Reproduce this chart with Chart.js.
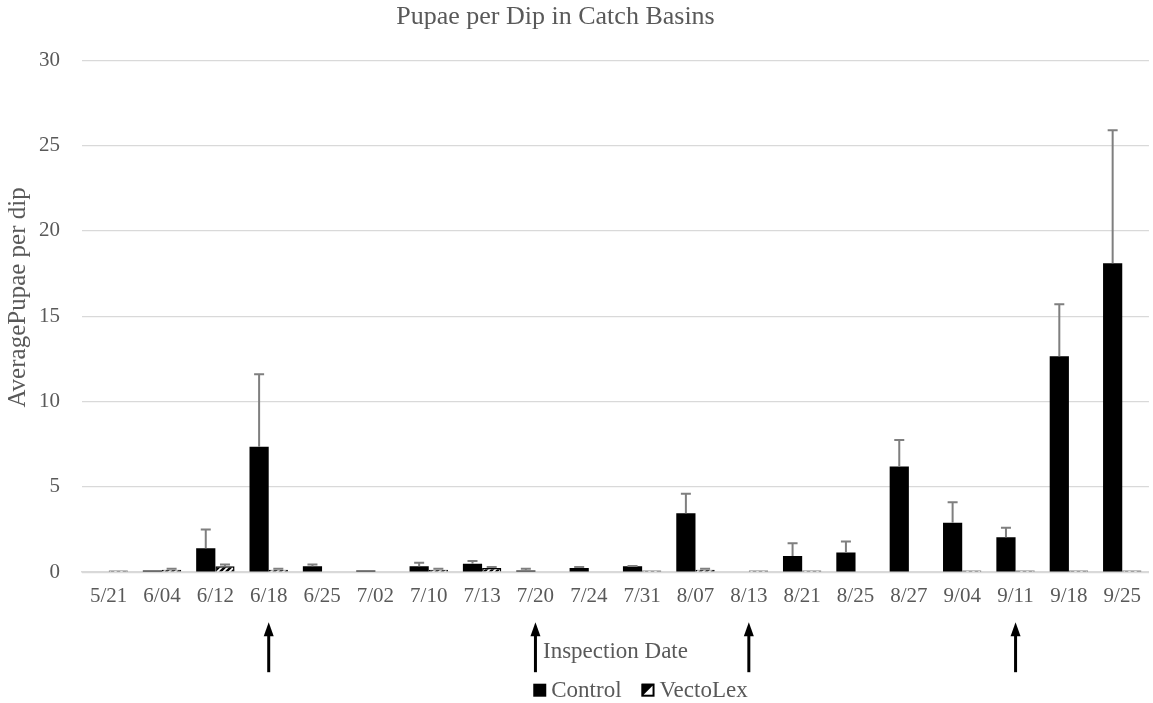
<!DOCTYPE html>
<html lang="en">
<head>
    <meta charset="UTF-8">
    <title>Pupae per Dip in Catch Basins</title>
    <script src="https://cdn.jsdelivr.net/npm/chart.js"></script>
    <style>
        html, body { margin: 0; padding: 0; background: #fff; }
        .wrap { width: 1153px; height: 703px; }
    </style>
</head>
<body>
    <div class="wrap"><canvas id="chart" width="1153" height="703"></canvas></div>

    <script>
        // inspection dates
        const dates = ['5/21', '6/04', '6/12', '6/18', '6/25', '7/02', '7/10', '7/13', '7/20', '7/24',
                       '7/31', '8/07', '8/13', '8/21', '8/25', '8/27', '9/04', '9/11', '9/18', '9/25'];
        // average pupae per dip
        const control  = [0, 0.1, 1.4, 7.35, 0.35, 0.1, 0.35, 0.5, 0.1, 0.25, 0.35, 3.45, 0, 0.95, 1.15, 6.2, 2.9, 2.05, 12.65, 18.1];
        const controlErr = [0, 0, 1.1, 4.25, 0.1, 0, 0.2, 0.15, 0.1, 0.05, 0.02, 1.15, 0, 0.75, 0.65, 1.55, 1.2, 0.55, 3.05, 7.8];
        const vectolex = [0.1, 0.15, 0.35, 0.15, 0, 0, 0.15, 0.25, 0, 0, 0.1, 0.15, 0.1, 0.1, 0, 0, 0.1, 0.1, 0.1, 0.1];
        const vectolexErr = [0, 0.05, 0.1, 0.05, 0, 0, 0.05, 0.05, 0, 0, 0, 0.05, 0, 0, 0, 0, 0, 0, 0, 0];
        // treatment dates (arrows under the axis)
        const treatments = ['6/18', '7/20', '8/13', '9/11'];

        const serif = '"Liberation Serif", "Times New Roman", serif';
        const grey = '#595959';

        // diagonal hatch for VectoLex
        function hatch() {
            const c = document.createElement('canvas');
            c.width = 6; c.height = 6;
            const g = c.getContext('2d');
            g.fillStyle = '#fff';
            g.fillRect(0, 0, 6, 6);
            g.strokeStyle = '#000';
            g.lineWidth = 2.5;
            g.beginPath();
            g.moveTo(-1, 7); g.lineTo(7, -1);
            g.moveTo(-4, 4); g.lineTo(4, -4);
            g.moveTo(2, 10); g.lineTo(10, 2);
            g.stroke();
            return g.createPattern(c, 'repeat');
        }

        // error bars, treatment arrows, legend
        const extras = {
            id: 'extras',
            afterDatasetsDraw(chart) {
                const ctx = chart.ctx;
                const y = chart.scales.y;
                const errs = [controlErr, vectolexErr];
                ctx.save();
                ctx.strokeStyle = '#7f7f7f';
                ctx.lineWidth = 2;
                errs.forEach((err, i) => {
                    const meta = chart.getDatasetMeta(i);
                    const vals = chart.data.datasets[i].data;
                    meta.data.forEach((bar, j) => {
                        if (!err[j]) return;
                        const top = y.getPixelForValue(vals[j] + err[j]);
                        ctx.beginPath();
                        ctx.moveTo(bar.x, bar.y);
                        ctx.lineTo(bar.x, top);
                        ctx.moveTo(bar.x - 5, top);
                        ctx.lineTo(bar.x + 5, top);
                        ctx.stroke();
                    });
                });
                ctx.restore();
            },
            afterDraw(chart) {
                const ctx = chart.ctx;
                const x = chart.scales.x;
                const area = chart.chartArea;
                const base = area.bottom;
                ctx.save();
                ctx.fillStyle = '#000';
                ctx.strokeStyle = '#000';
                ctx.lineWidth = 3;
                treatments.forEach(d => {
                    const px = x.getPixelForValue(dates.indexOf(d));
                    ctx.beginPath();
                    ctx.moveTo(px, base + 100);
                    ctx.lineTo(px, base + 60);
                    ctx.stroke();
                    ctx.beginPath();
                    ctx.moveTo(px, base + 50);
                    ctx.lineTo(px - 5, base + 64);
                    ctx.lineTo(px + 5, base + 64);
                    ctx.closePath();
                    ctx.fill();
                });

                // legend
                ctx.font = '23px ' + serif;
                ctx.textBaseline = 'middle';
                ctx.textAlign = 'left';
                const box = 13, gap = 5, itemGap = 20;
                const names = chart.data.datasets.map(ds => ds.label);
                const widths = names.map(n => box + gap + ctx.measureText(n).width);
                const total = widths[0] + itemGap + widths[1];
                let lx = (area.left + area.right) / 2 + 25 - total / 2;
                const ly = base + 118;
                names.forEach((n, i) => {
                    if (i === 0) {
                        ctx.fillStyle = '#000';
                        ctx.fillRect(lx, ly - box / 2, box, box);
                    } else {
                        ctx.fillStyle = '#fff';
                        ctx.fillRect(lx, ly - box / 2, box, box);
                        ctx.fillStyle = '#000';
                        ctx.beginPath();
                        ctx.moveTo(lx, ly - box / 2);
                        ctx.lineTo(lx + box, ly - box / 2);
                        ctx.lineTo(lx, ly + box / 2);
                        ctx.closePath();
                        ctx.fill();
                        ctx.lineWidth = 2;
                        ctx.strokeRect(lx + 1, ly - box / 2 + 1, box - 2, box - 2);
                    }
                    ctx.fillStyle = grey;
                    ctx.fillText(n, lx + box + gap, ly + 1);
                    lx += widths[i] + itemGap;
                });
                ctx.restore();
            }
        };

        new Chart(document.getElementById('chart').getContext('2d'), {
            type: 'bar',
            data: {
                labels: dates,
                datasets: [
                    { label: 'Control', data: control, backgroundColor: '#000', borderColor: '#000', borderWidth: 0,
                      categoryPercentage: 0.72, barPercentage: 1.0 },
                    { label: 'VectoLex', data: vectolex, backgroundColor: hatch(), borderColor: '#000', borderWidth: 1.5,
                      categoryPercentage: 0.72, barPercentage: 1.0 }
                ]
            },
            options: {
                responsive: false,
                animation: false,
                layout: { padding: { left: 0, right: 3, top: 0, bottom: 27 } },
                plugins: {
                    title: {
                        display: true,
                        text: 'Pupae per Dip in Catch Basins      ',
                        color: grey,
                        font: { family: serif, size: 26, weight: 'normal' },
                        padding: { top: 2, bottom: 27 }
                    },
                    legend: { display: false },
                    tooltip: { enabled: false }
                },
                scales: {
                    x: {
                        grid: { display: false, drawTicks: false },
                        border: { color: '#d9d9d9', width: 1.5 },
                        ticks: { color: grey, font: { family: serif, size: 21 }, padding: 12, maxRotation: 0, autoSkip: false },
                        title: {
                            display: true,
                            text: 'Inspection Date',
                            color: grey,
                            font: { family: serif, size: 23 },
                            padding: { top: 17, bottom: 10 }
                        }
                    },
                    y: {
                        min: 0,
                        max: 30,
                        afterFit(scale) { scale.width = 82; },
                        ticks: { stepSize: 5, color: grey, font: { family: serif, size: 21 }, padding: 22 },
                        grid: { color: '#d9d9d9', lineWidth: 1.3, drawTicks: false },
                        border: { display: false },
                        title: {
                            display: true,
                            text: '      AveragePupae per dip',
                            color: grey,
                            font: { family: serif, size: 25 },
                            padding: { top: 3, bottom: 0 }
                        }
                    }
                }
            },
            plugins: [extras]
        });
    </script>
</body>
</html>
